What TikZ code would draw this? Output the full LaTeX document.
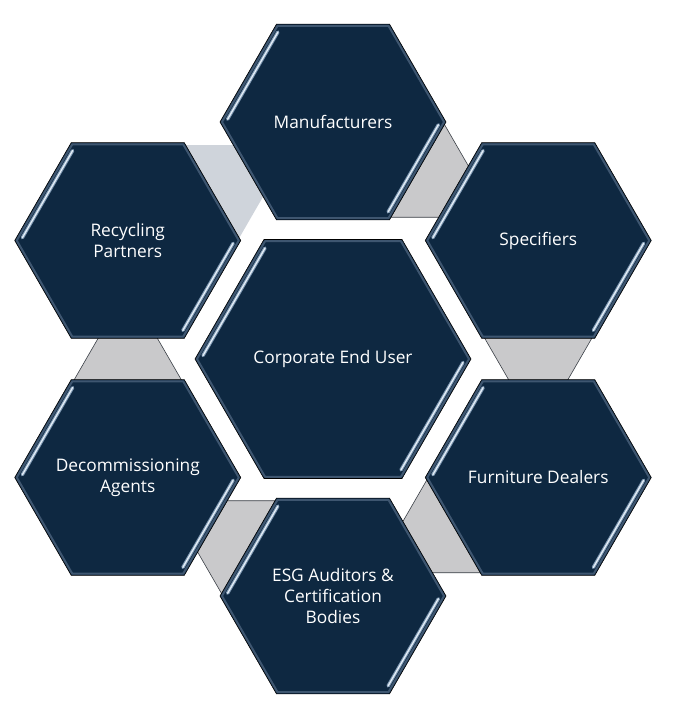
\documentclass[tikz,border=0pt]{standalone}
\usepackage{fontspec}
\setmainfont{Open Sans}
\usetikzlibrary{calc}
\definecolor{navy}{HTML}{0E2841}
\definecolor{glowc}{HTML}{3E5670}
\definecolor{hlouter}{HTML}{7E98B2}
\definecolor{hlinner}{HTML}{E4EEF7}
\definecolor{conngray}{HTML}{C9C9CB}
\definecolor{connblue}{HTML}{CFD4DB}
\definecolor{connline}{HTML}{3A3F46}
\tikzset{
  hexbody/.style={fill=navy, draw=black, line width=0.6pt},
  glow/.style={draw=glowc, line width=2pt, line join=round},
  hl/.style={line cap=round, line width=3.4pt, draw=hlouter},
  hlin/.style={line cap=round, line width=1.3pt, draw=hlinner},
  conn/.style={fill=conngray, draw=connline, line width=0.6pt, line join=round},
  connb/.style={fill=connblue},
  lbl/.style={text=white, align=center, font=\fontsize{17.3}{20.8}\selectfont}
}
\newcommand\drawhex[2]{%
  \path[hexbody] ($(#1)+(0:#2)$) -- ($(#1)+(60:#2)$) -- ($(#1)+(120:#2)$) -- ($(#1)+(180:#2)$) -- ($(#1)+(240:#2)$) -- ($(#1)+(300:#2)$) -- cycle;
  \path[glow] ($(#1)+(0:{#2-2})$) -- ($(#1)+(60:{#2-2})$) -- ($(#1)+(120:{#2-2})$) -- ($(#1)+(180:{#2-2})$) -- ($(#1)+(240:{#2-2})$) -- ($(#1)+(300:{#2-2})$) -- cycle;
  \coordinate (hA) at ($(#1)+(180:{#2-6})$);
  \coordinate (hB) at ($(#1)+(120:{#2-6})$);
  \coordinate (hC) at ($(#1)+(0:{#2-6})$);
  \coordinate (hD) at ($(#1)+(-60:{#2-6})$);
  \draw[hl] ($(hA)!0.03!(hB)$) -- ($(hA)!0.97!(hB)$);
  \draw[hlin] ($(hA)!0.03!(hB)$) -- ($(hA)!0.97!(hB)$);
  \draw[hl] ($(hC)!0.03!(hD)$) -- ($(hC)!0.97!(hD)$);
  \draw[hlin] ($(hC)!0.03!(hD)$) -- ($(hC)!0.97!(hD)$);
}
% triangle from source hexagon #1 in direction #2
\newcommand\drawconn[3]{%
  \path[#3] ($(#1)+({#2+30}:110)$) -- ($(#1)+({#2-30}:110)$) -- ($(#1)+(#2:190.5)$) -- cycle;
}
\begin{document}
\begin{tikzpicture}[x=1pt,y=1pt]
\useasboundingbox (0,0) rectangle (681,720);
\coordinate (C) at (333,361);
\coordinate (man) at ($(C)+(90:237)$);
\coordinate (spe) at ($(C)+(30:237)$);
\coordinate (fur) at ($(C)+(-30:237)$);
\coordinate (esg) at ($(C)+(-90:237)$);
\coordinate (dec) at ($(C)+(-150:237)$);
\coordinate (rec) at ($(C)+(150:237)$);
% connectors
\drawconn{man}{-30}{conn}
\drawconn{spe}{-90}{conn}
\drawconn{fur}{-150}{conn}
\drawconn{esg}{150}{conn}
\drawconn{dec}{90}{conn}
\drawconn{rec}{30}{connb}
% hexagons
\drawhex{man}{113}
\drawhex{spe}{113}
\drawhex{fur}{113}
\drawhex{esg}{113}
\drawhex{dec}{113}
\drawhex{rec}{113}
\drawhex{C}{138}
% labels
\node[lbl] (tman) at (man) {Manufacturers};
\node[lbl] (tspe) at (spe) {Specifiers};
\node[lbl] (tfur) at (fur) {Furniture Dealers};
\node[lbl] (tesg) at (esg) {ESG Auditors \&\\Certification\\Bodies};
\node[lbl] (tdec) at (dec) {Decommissioning\\Agents};
\node[lbl] (trec) at (rec) {Recycling\\Partners};
\node[lbl] (tc) at (C) {Corporate End User};
\end{tikzpicture}
\end{document}
